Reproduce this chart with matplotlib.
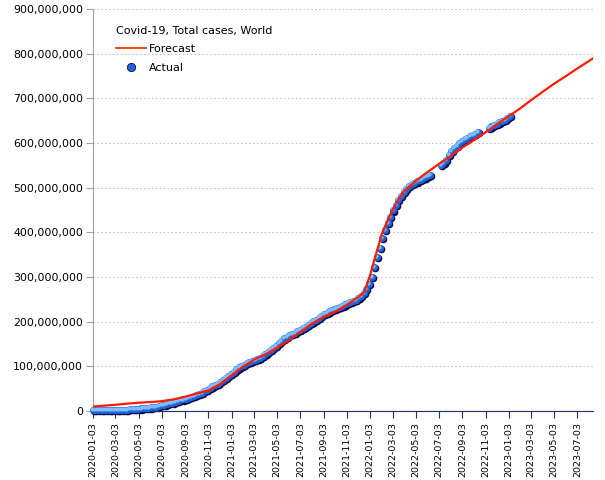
import matplotlib
matplotlib.use("Agg")
import matplotlib.pyplot as plt
import matplotlib.dates as mdates
import matplotlib.ticker as mticker
from matplotlib.lines import Line2D
from matplotlib.transforms import offset_copy
import pandas as pd

# actual weekly totals (millions), three reporting stretches
actual_start_1 = "2020-01-03"
actual_1 = [
    2.5, 2.5, 2.5, 2.5, 2.5, 2.5, 2.5, 2.5, 2.5, 2.5,
    2.6, 2.8, 3.0, 3.3, 3.7, 4.1, 4.6, 5.1, 5.6, 6.1,
    6.7, 7.3, 8.0, 8.8, 9.8, 11.1, 12.6, 14.2, 15.8, 17.4,
    19.0, 20.6, 22.3, 24.0, 25.8, 27.6, 29.4, 31.2, 33.0, 35.0,
    37.5, 40.5, 44.0, 48.0, 51.5, 55.0, 58.0, 61.5, 65.5, 69.5,
    74, 78.5, 83, 88, 93, 97.5, 101, 104, 107, 109.5,
    112, 114.5, 117, 119.5, 123, 127, 131.5, 136, 141, 146.5,
    152, 157.5, 162.5, 166.5, 170, 173, 175.5, 178.5, 181.5, 185,
    188.5, 192.5, 196.5, 200.5, 204.5, 208.5, 212.5, 216.5, 220, 223,
    226, 228.5, 231, 233.5, 236, 238.5, 241, 243.5, 246.5, 249.5,
    253, 257.5, 264, 274, 284, 300, 322, 344, 366, 388,
    406, 421, 435, 449, 461, 472, 482, 491, 498, 504,
    508, 511, 514, 517, 520, 523, 526, 529,
]
actual_start_2 = "2022-07-08"
actual_2 = [550, 556, 563, 573, 582, 589, 594, 600, 604, 608, 612, 615, 618, 621, 624]
actual_start_3 = "2022-11-11"
actual_3 = [634, 637, 640, 643, 646, 649, 652, 656, 660]

# forecast curve (millions)
forecast_dates = [
    "2020-01-03", "2020-02-03", "2020-03-03", "2020-04-03", "2020-05-03", "2020-06-03",
    "2020-07-03", "2020-08-03", "2020-09-03", "2020-10-03", "2020-11-03", "2020-12-03",
    "2021-01-03", "2021-02-03", "2021-03-03", "2021-04-03", "2021-05-03", "2021-06-03",
    "2021-07-03", "2021-08-03", "2021-09-03", "2021-10-03", "2021-11-03", "2021-12-03",
    "2021-12-18", "2022-01-03", "2022-01-18", "2022-02-03", "2022-02-18", "2022-03-03",
    "2022-03-18", "2022-04-03", "2022-05-03", "2022-06-03", "2022-07-03", "2022-08-03",
    "2022-09-03", "2022-10-03", "2022-11-03", "2022-12-03", "2023-01-03", "2023-02-03",
    "2023-03-03", "2023-04-03", "2023-05-03", "2023-06-03", "2023-07-03", "2023-08-03",
    "2023-08-12",
]
forecast = [
    10, 12, 14, 16.5, 18.5, 20,
    22, 26, 32, 39, 46, 60,
    80, 100, 115, 127, 142, 158,
    177, 196, 211, 222, 238, 255,
    266, 305, 350, 397, 427, 450,
    473, 493, 515, 535, 553, 570,
    590, 606, 624, 642, 660, 678,
    696, 715, 733, 750, 767, 784,
    789,
]

legend_title = "Covid-19, Total cases, World"


def weekly(start, values):
    dates = pd.date_range(start, periods=len(values), freq="7D")
    return dates, [v * 1e6 for v in values]


fig = plt.figure(figsize=(6.05, 4.8), dpi=100)
ax = fig.add_axes([92.7 / 605, 69 / 480, (593 - 92.7) / 605, 402 / 480])

f_dates = pd.to_datetime(forecast_dates)
ax.plot(f_dates, [v * 1e6 for v in forecast], color="#ff1a00", lw=1.6, zorder=4)

# sphere-like markers: dark shadow, blue body, light highlight
shadow = offset_copy(ax.transData, fig=fig, x=0.8, y=-0.8, units="points")
light = offset_copy(ax.transData, fig=fig, x=-0.7, y=0.7, units="points")
for start, vals in [(actual_start_1, actual_1), (actual_start_2, actual_2),
                    (actual_start_3, actual_3)]:
    d, v = weekly(start, vals)
    ax.scatter(d, v, s=30, color="#0c0c48", lw=0, transform=shadow, zorder=2, clip_on=False)
    ax.scatter(d, v, s=26, color="#1f64d4", lw=0, zorder=3, clip_on=False)
    ax.scatter(d, v, s=9, color="#7fbcff", lw=0, transform=light, zorder=3, clip_on=False)

ax.set_xlim(pd.Timestamp("2020-01-03"), pd.Timestamp("2023-08-13"))
ax.set_ylim(0, 900e6)
ax.yaxis.set_major_locator(mticker.MultipleLocator(100e6))
ax.yaxis.set_major_formatter(mticker.FuncFormatter(lambda v, p: f"{v:,.0f}"))
ax.xaxis.set_major_locator(mdates.MonthLocator(bymonth=range(1, 13, 2), bymonthday=3))
ax.xaxis.set_major_formatter(mdates.DateFormatter("%Y-%m-%d"))
ax.tick_params(axis="x", labelrotation=90, labelsize=6.8, length=5, color="#1f2f6e", pad=3)
ax.tick_params(axis="y", labelsize=7.9, length=5, color="#9aa0bc", pad=2)

ax.grid(axis="y", color="#c4c4c4", linestyle=(0, (1.5, 2)), lw=0.8)
ax.set_axisbelow(True)
for side in ["top", "right"]:
    ax.spines[side].set_visible(False)
ax.spines["left"].set_color("#9aa0bc")
ax.spines["bottom"].set_color("#1f2f6e")

handles = [
    Line2D([], [], color="#ff3300", lw=1.3),
    Line2D([], [], lw=0, marker="o", markersize=6, markerfacecolor="#1f64d4",
           markeredgecolor="#0c0c48", markeredgewidth=0.6),
]
ax.legend(handles, ["Forecast", "Actual"], title=legend_title, loc="upper left",
          bbox_to_anchor=(110 / 605, 1 - 20 / 480), bbox_transform=fig.transFigure,
          frameon=False, fontsize=8, title_fontsize=8, alignment="left",
          handlelength=2.7, handletextpad=0.3, labelspacing=0.78, borderpad=0)

fig.savefig("out.png", dpi=100)
